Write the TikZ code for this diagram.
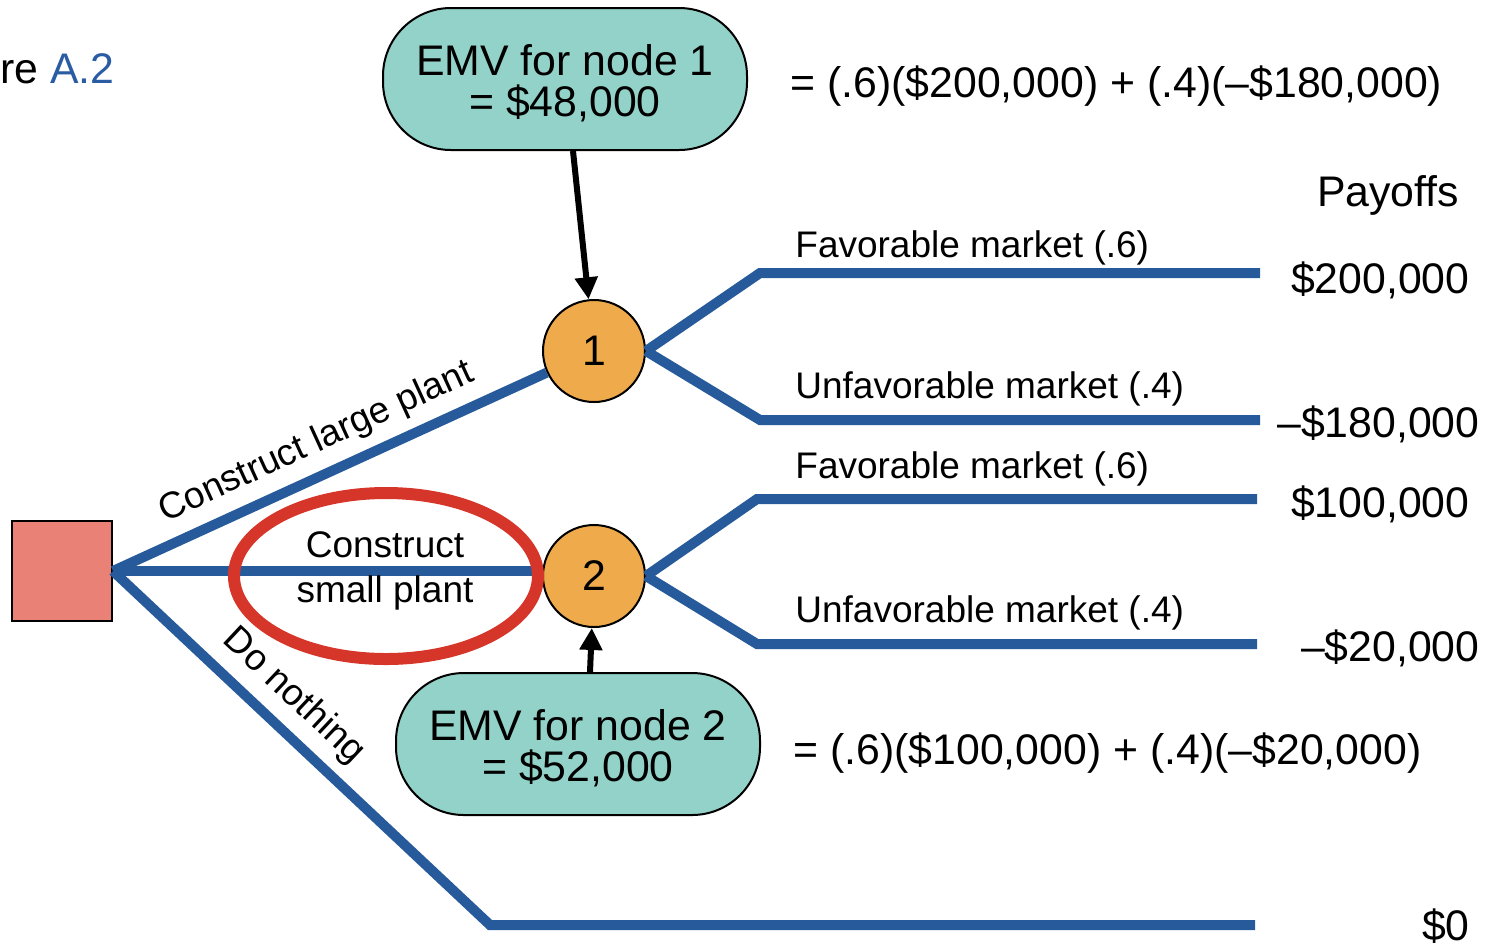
\documentclass[tikz,border=0pt]{standalone}
\usepackage{fontspec}
\setmainfont{Liberation Sans}
\usetikzlibrary{arrows.meta}

\definecolor{treeblue}{HTML}{275A9A}
\definecolor{decfill}{HTML}{E98177}
\definecolor{chancefill}{HTML}{EEAA4B}
\definecolor{emvfill}{HTML}{93D2C9}
\definecolor{ringred}{HTML}{D6352A}
\definecolor{figblue}{HTML}{2A5CA4}

\newcommand{\emvsize}{\fontsize{21.4}{20.5}\selectfont}
\newcommand{\lblsize}{\fontsize{18.5}{22.5}\selectfont}
\newcommand{\emvstrut}{\rule{0pt}{19.5pt}}

\begin{document}
\begin{tikzpicture}[x=0.5pt,y=-0.5pt]
    % Define styles
    \tikzstyle{branch} = [draw=treeblue, line width=5pt]
    \tikzstyle{decision} = [rectangle, draw, line width=1pt, fill=decfill, minimum size=50pt, inner sep=0pt]
    \tikzstyle{chance} = [circle, draw, line width=1pt, fill=chancefill, minimum size=51pt, inner sep=0pt, font=\emvsize]
    \tikzstyle{emv} = [rectangle, draw, line width=1pt, fill=emvfill, rounded corners=34pt,
        minimum width=182pt, minimum height=71pt, align=center, font=\emvsize]
    \tikzstyle{line} = [draw, line width=3pt, -{Triangle[length=11pt,width=11pt]}] % black arrow
    \tikzstyle{txt} = [inner sep=0pt, font=\emvsize]
    \tikzstyle{lbl} = [inner sep=0pt, font=\lblsize]

    \useasboundingbox (0,0) rectangle (1491,949);

    % Place nodes
    \node [txt, anchor=west] (fig) at (0,69) {re \textcolor{figblue}{A.2}};
    \node [decision] (dec) at (62,571) {};
    \node [chance] (n1) at (594,351) {1};
    \node [chance] (n2) at (594,576) {2};
    \node [emv] (emv1) at (565,79) {\emvstrut EMV for node 1\\= \$48,000};
    \node [emv] (emv2) at (578,744) {\emvstrut EMV for node 2\\= \$52,000};

    % Branch ends
    \coordinate (f1) at (760,273);
    \coordinate (f1e) at (1260,273);
    \coordinate (u1) at (760,420);
    \coordinate (u1e) at (1260,420);
    \coordinate (f2) at (757,499);
    \coordinate (f2e) at (1257,499);
    \coordinate (u2) at (757,644);
    \coordinate (u2e) at (1257,644);
    \coordinate (dn) at (490,925);
    \coordinate (dne) at (1255,925);

    % Draw branches
    \path [branch] (dec.east) -- node[lbl, sloped, above=5pt, pos=0.5] {Construct large plant} (n1);
    \path [branch] (dec.east) -- (dec.east -| n2.west);
    \path [branch] (dec.east) -- node[lbl, sloped, above=5pt, pos=0.42] {Do nothing} (dn) -- (dne);
    \path [branch] (n1.east) -- (f1) -- (f1e);
    \path [branch] (n1.east) -- (u1) -- (u1e);
    \path [branch] (n2.east) -- (f2) -- (f2e);
    \path [branch] (n2.east) -- (u2) -- (u2e);

    % Highlight ring
    \draw [ringred, line width=6pt] (386,576) ellipse [x radius=76pt, y radius=41.5pt];
    \node [lbl, align=center] (small) at (385,571) {Construct\\small plant};

    % Arrows from EMV boxes
    \path [line] ([xshift=4pt]emv1.south) -- (n1);
    \path [line] ([xshift=6pt]emv2.north) -- (n2);

    % Branch labels
    \node [lbl, anchor=west] (fav1) at (795,248) {Favorable market (.6)};
    \node [lbl, anchor=west] (unf1) at (795,389) {Unfavorable market (.4)};
    \node [lbl, anchor=west] (fav2) at (795,469) {Favorable market (.6)};
    \node [lbl, anchor=west] (unf2) at (795,613) {Unfavorable market (.4)};

    % Formulas
    \node [txt, anchor=west] (calc1) at (790,86) {= (.6)(\$200,000) + (.4)(–\$180,000)};
    \node [txt, anchor=west] (calc2) at (793,753) {= (.6)(\$100,000) + (.4)(–\$20,000)};

    % Payoffs
    \node [txt] (pay) at (1388,195) {Payoffs};
    \node [txt, anchor=east] (p1) at (1470,280) {\$200,000};
    \node [txt, anchor=east] (p2) at (1480,424) {–\$180,000};
    \node [txt, anchor=east] (p3) at (1470,504) {\$100,000};
    \node [txt, anchor=east] (p4) at (1480,648) {–\$20,000};
    \node [txt, anchor=east] (p5) at (1470,926) {\$0};
\end{tikzpicture}
\end{document}
